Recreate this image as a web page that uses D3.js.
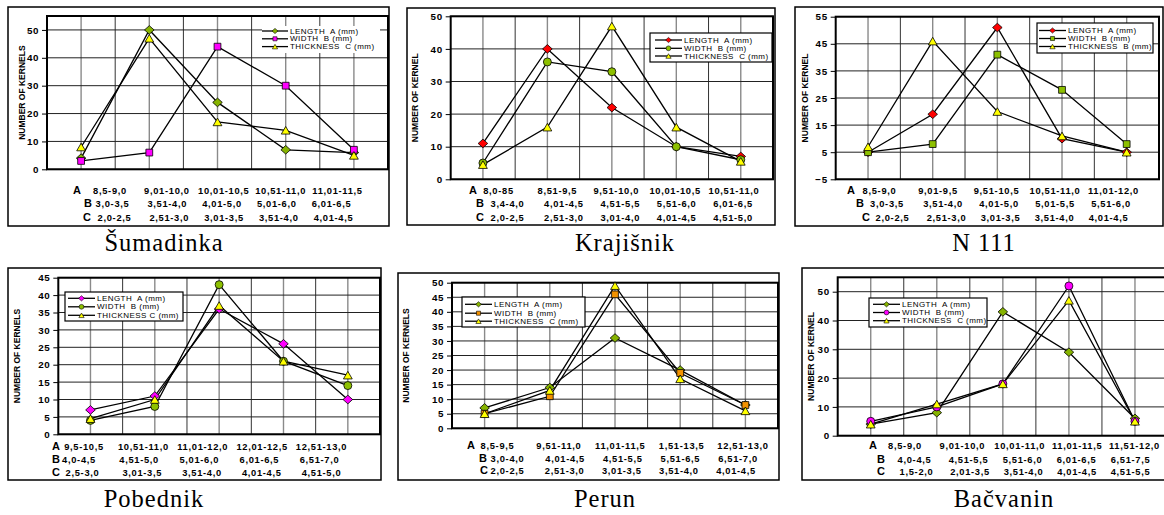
<!DOCTYPE html>
<html><head><meta charset="utf-8">
<script src="https://cdn.jsdelivr.net/npm/d3@7"></script>
<style>
html,body{margin:0;padding:0;background:#fff;}
svg{display:block;}
text{white-space:pre;}
</style></head>
<body>
<svg id="chart" width="1164" height="515"></svg>
<script>
// ---------------- DATA ----------------
const categories = [0, 1, 2, 3, 4];

const sumadinkaLength    = [4, 50, 24, 7, 6];
const sumadinkaWidth     = [3, 6, 44, 30, 7];
const sumadinkaThickness = [8, 47, 17, 14, 5];
const sumadinkaA = ["8,5-9,0", "9,01-10,0", "10,01-10,5", "10,51-11,0", "11,01-11,5"];
const sumadinkaB = ["3,0-3,5", "3,51-4,0", "4,01-5,0", "5,01-6,0", "6,01-6,5"];
const sumadinkaC = ["2,0-2,5", "2,51-3,0", "3,01-3,5", "3,51-4,0", "4,01-4,5"];

const krajisnikLength    = [11, 40, 22, 10, 7];
const krajisnikWidth     = [5, 36, 33, 10, 6];
const krajisnikThickness = [4.5, 16, 47, 16, 5.5];
const krajisnikA = ["8,0-85", "8,51-9,5", "9,51-10,0", "10,01-10,5", "10,51-11,0"];
const krajisnikB = ["3,4-4,0", "4,01-4,5", "4,51-5,5", "5,51-6,0", "6,01-6,5"];
const krajisnikC = ["2,0-2,5", "2,51-3,0", "3,01-4,0", "4,01-4,5", "4,51-5,0"];

const n111Length    = [5, 19, 51, 10, 5];
const n111Width     = [5, 8, 41, 28, 8];
const n111Thickness = [7, 46, 20, 11, 5];
const n111A = ["8,5-9,0", "9,01-9,5", "9,51-10,5", "10,51-11,0", "11,01-12,0"];
const n111B = ["3,0-3,5", "3,51-4,0", "4,01-5,0", "5,01-5,5", "5,51-6,0"];
const n111C = ["2,0-2,5", "2,51-3,0", "3,01-3,5", "3,51-4,0", "4,01-4,5"];

const pobednikLength    = [7, 11, 36, 26, 10];
const pobednikWidth     = [4, 8, 43, 21, 14];
const pobednikThickness = [4.5, 10, 37, 21, 17];
const pobednikA = ["9,5-10,5", "10,51-11,0", "11,01-12,0", "12,01-12,5", "12,51-13,0"];
const pobednikB = ["4,0-4,5", "4,51-5,0", "5,01-6,0", "6,01-6,5", "6,51-7,0"];
const pobednikC = ["2,5-3,0", "3,01-3,5", "3,51-4,0", "4,01-4,5", "4,51-5,0"];

const perunLength    = [7, 14, 31, 20, 8];
const perunWidth     = [5, 11, 46, 19, 8];
const perunThickness = [5, 13, 49, 17, 6];
const perunA = ["8,5-9,5", "9,51-11,0", "11,01-11,5", "1,51-13,5", "12,51-13,0"];
const perunB = ["3,0-4,0", "4,01-4,5", "4,51-5,5", "5,51-6,5", "6,51-7,0"];
const perunC = ["2,0-2,5", "2,51-3,0", "3,01-3,5", "3,51-4,0", "4,01-4,5"];

const bacvaninLength    = [4, 8, 43, 29, 6];
const bacvaninWidth     = [5, 10, 18, 52, 5];
const bacvaninThickness = [4, 11, 18, 47, 5];
const bacvaninA = ["8,5-9,0", "9,01-10,0", "10,01-11,0", "11,01-11,5", "11,51-12,0"];
const bacvaninB = ["4,0-4,5", "4,51-5,5", "5,51-6,0", "6,01-6,5", "6,51-7,5"];
const bacvaninC = ["1,5-2,0", "2,01-3,5", "3,51-4,0", "4,01-4,5", "4,51-5,5"];

const titles = ["Šumadinka", "Krajišnik", "N 111", "Pobednik", "Perun", "Bačvanin"];
const legendStd  = ["LENGTH  A (mm)", "WIDTH  B (mm)", "THICKNESS  C (mm)"];
const legendN111 = ["LENGTH  A (mm)", "WIDTH  B (mm)", "THICKNESS  B (mm)"];
const legendPob  = ["LENGTH  A (mm)", "WIDTH  B (mm)", "THICKNESS C (mm)"];
const yTitles = ["NUMBER OF KERNELS", "NUMBER OF KERNEL", "NUMBER OF KERNEL",
                 "NUMBER OF KERNELS", "NUMBER OF KERNELS", "NUMBER OF KERNEL"];
const yTicks1 = [0, 10, 20, 30, 40, 50];
const yTicks3 = [-5, 5, 15, 25, 35, 45, 55];
const yTicks4 = [0, 5, 10, 15, 20, 25, 30, 35, 40, 45];
const yTicks5 = [0, 5, 10, 15, 20, 25, 30, 35, 40, 45, 50];

// ---------------- STYLE / LAYOUT ----------------
const C = {green:"#86b300", green2:"#8dc000", magenta:"#ff00ff", yellow:"#ffff00",
           red:"#ff0000", orange:"#f39200"};

const panels = [
 {series:[sumadinkaLength, sumadinkaWidth, sumadinkaThickness], rows:[sumadinkaA, sumadinkaB, sumadinkaC],
  shapes:["diamond","square","triangle"], colors:[C.green, C.magenta, C.yellow], legendText:legendStd,
  frame:[8,7,389,226], plot:[47,16,388,169.3], ydom:[0,55], yticks:yTicks1, ytx:22,
  legend:{box:[262,26,380,53], border:false, rowsY:[31,38.8,46.6], lineX:[262,288], textX:290},
  rowsY:[194,207.3,220.6], letterX:[81,92,91], rowRange:[[110,337.5],[112.5,331.5],[114.5,333.5]], title:[164,251]},
 {series:[krajisnikLength, krajisnikWidth, krajisnikThickness], rows:[krajisnikA, krajisnikB, krajisnikC],
  shapes:["diamond","circle","triangle"], colors:[C.red, C.green2, C.yellow], legendText:legendStd,
  frame:[407,8,775,225], plot:[450.7,16.3,773,179.3], ydom:[0,50], yticks:yTicks1, ytx:415,
  legend:{box:[650,33,772,62], border:true, rowsY:[40,48.3,56], lineX:[655,682], textX:684},
  rowsY:[194,207.3,220.6], letterX:[477,484,484], rowRange:[[498.5,734],[507.5,733],[507.5,733]], title:[625,251]},
 {series:[n111Length, n111Width, n111Thickness], rows:[n111A, n111B, n111C],
  shapes:["diamond","square","triangle"], colors:[C.red, C.green2, C.yellow], legendText:legendN111,
  frame:[795,7,1163,226], plot:[835.7,16.7,1159,179.3], ydom:[-5,55], yticks:yTicks3, ytx:805,
  legend:{box:[1037,23,1153,53], border:true, rowsY:[30.5,38.5,46.5], lineX:[1039,1066], textX:1068},
  rowsY:[194,207.3,220.6], letterX:[855,864,870], rowRange:[[879.5,1113.5],[887,1111],[892.5,1108.5]], title:[984,251]},
 {series:[pobednikLength, pobednikWidth, pobednikThickness], rows:[pobednikA, pobednikB, pobednikC],
  shapes:["diamond","circle","triangle"], colors:[C.magenta, C.green2, C.yellow], legendText:legendPob,
  frame:[8,268,381,480], plot:[58.3,277.7,380,434.3], ydom:[0,45], yticks:yTicks4, ytx:17,
  legend:{box:[65,292,183,321], border:true, rowsY:[298.3,306.8,315.3], lineX:[68,95], textX:97},
  rowsY:[450,463.3,476], letterX:[60,60,60], rowRange:[[84,321.5],[79,319.5],[82.5,321.5]], title:[154,507]},
 {series:[perunLength, perunWidth, perunThickness], rows:[perunA, perunB, perunC],
  shapes:["diamond","square","triangle"], colors:[C.green, C.orange, C.yellow], legendText:legendStd,
  frame:[398,273,779,480], plot:[452,282.7,778,428.3], ydom:[0,50], yticks:yTicks5, ytx:406,
  legend:{box:[462,297,585,327], border:true, rowsY:[304.3,313.2,321.2], lineX:[465,492], textX:494},
  rowsY:[449,462.3,474.3], letterX:[475,487,488], rowRange:[[497.5,743],[507.5,738],[507.5,736]], title:[605,507]},
 {series:[bacvaninLength, bacvaninWidth, bacvaninThickness], rows:[bacvaninA, bacvaninB, bacvaninC],
  shapes:["diamond","circle","triangle"], colors:[C.green, C.magenta, C.yellow], legendText:legendStd,
  frame:[802,268,1167,480], plot:[837.7,277.3,1168,435.7], ydom:[0,55], yticks:yTicks1, ytx:811,
  legend:{box:[869,298,987,327], border:true, rowsY:[304.3,312.5,320.7], lineX:[873,900], textX:902},
  rowsY:[449,462.6,475], letterX:[877,885,885], rowRange:[[905,1134.5],[914.5,1130.5],[916.5,1130.5]], title:[1004,507]}
];

const SANS = "'Liberation Sans', Arial, Helvetica, sans-serif";
const SERIF = "'Liberation Serif', 'Times New Roman', serif";

function markerPath(shape, s) {
  if (shape === "diamond") { const w=4.8*s, h=4.3*s; return `M0,${-h}L${w},0L0,${h}L${-w},0Z`; }
  if (shape === "square")  { const a=3.4*s; return `M${-a},${-a}H${a}V${a}H${-a}Z`; }
  if (shape === "triangle"){ const w=4.4*s, h=3.8*s; return `M0,${-h}L${w},${h}L${-w},${h}Z`; }
  const r=4*s; return `M${r},0A${r},${r} 0 1,1 ${-r},0A${r},${r} 0 1,1 ${r},0Z`;
}

const svg = d3.select("#chart");

panels.forEach((p, pi) => {
  const g = svg.append("g");
  const [fx0, fy0, fx1, fy1] = p.frame;
  g.append("rect").attr("x", fx0).attr("y", fy0).attr("width", fx1 - fx0).attr("height", fy1 - fy0)
    .attr("fill", "#fff").attr("stroke", "#000").attr("stroke-width", 1.5);

  const [px0, py0, px1, py1] = p.plot;
  const x = d3.scalePoint().domain(categories).range([px0, px1]).padding(0.5);
  const y = d3.scaleLinear().domain(p.ydom).range([py1, py0]);
  const step = x.step();

  categories.forEach(c => {
    g.append("line").attr("x1", x(c)).attr("x2", x(c)).attr("y1", py0).attr("y2", py1)
      .attr("stroke", "#8a8a8a").attr("stroke-width", 1.4);
    if (c > 0) g.append("line").attr("x1", x(c) - step / 2).attr("x2", x(c) - step / 2)
      .attr("y1", py0).attr("y2", py1).attr("stroke", "#333").attr("stroke-width", 1);
  });
  p.yticks.forEach(t => {
    g.append("line").attr("x1", px0).attr("x2", px1).attr("y1", y(t)).attr("y2", y(t))
      .attr("stroke", "#222").attr("stroke-width", 1);
  });

  const ax = g.append("g").attr("transform", `translate(${px0},0)`)
    .call(d3.axisLeft(y).tickValues(p.yticks).tickSize(5).tickPadding(3).tickFormat(d3.format("d")));
  ax.select(".domain").remove();
  ax.selectAll(".tick line").attr("stroke", "#000").attr("stroke-width", 1);
  ax.selectAll(".tick text").attr("font-family", SANS).attr("font-weight", "bold")
    .attr("font-size", 9.8).attr("letter-spacing", 0.6).attr("fill", "#000");

  g.append("rect").attr("x", px0).attr("y", py0).attr("width", px1 - px0).attr("height", py1 - py0)
    .attr("fill", "none").attr("stroke", "#000").attr("stroke-width", 2);

  g.append("text").attr("transform", `translate(${p.ytx},${(py0 + py1) / 2}) rotate(-90)`)
    .attr("text-anchor", "middle").attr("dominant-baseline", "central")
    .attr("font-family", SANS).attr("font-weight", "bold").attr("font-size", 8.5)
    .attr("fill", "#000").text(yTitles[pi]);

  const line = d3.line().x((d, i) => x(categories[i])).y(d => y(d));
  p.series.forEach(s => {
    g.append("path").attr("d", line(s)).attr("fill", "none").attr("stroke", "#000").attr("stroke-width", 1.3);
  });
  p.series.forEach((s, si) => {
    g.selectAll(null).data(s).enter().append("path")
      .attr("transform", (d, i) => `translate(${x(categories[i])},${y(d)})`)
      .attr("d", markerPath(p.shapes[si], 1))
      .attr("fill", p.colors[si]).attr("stroke", "#000").attr("stroke-width", 0.8);
  });

  const L = p.legend;
  g.append("rect").attr("x", L.box[0]).attr("y", L.box[1]).attr("width", L.box[2] - L.box[0])
    .attr("height", L.box[3] - L.box[1]).attr("fill", "#fff")
    .attr("stroke", L.border ? "#000" : "none").attr("stroke-width", 1.2);
  p.legendText.forEach((t, i) => {
    const ly = L.rowsY[i];
    g.append("line").attr("x1", L.lineX[0]).attr("x2", L.lineX[1]).attr("y1", ly).attr("y2", ly)
      .attr("stroke", "#000").attr("stroke-width", 1.3);
    g.append("path").attr("transform", `translate(${(L.lineX[0] + L.lineX[1]) / 2},${ly})`)
      .attr("d", markerPath(p.shapes[i], 0.6)).attr("fill", p.colors[i]).attr("stroke", "#000").attr("stroke-width", 0.6);
    g.append("text").attr("x", L.textX).attr("y", ly).attr("dominant-baseline", "central")
      .attr("font-family", SANS).attr("font-size", 8).attr("letter-spacing", 0.45).attr("fill", "#000").text(t);
  });

  ["A", "B", "C"].forEach((letter, ri) => {
    const ry = p.rowsY[ri];
    g.append("text").attr("x", p.letterX[ri]).attr("y", ry).attr("text-anchor", "end")
      .attr("font-family", SANS).attr("font-weight", "bold").attr("font-size", 11).attr("fill", "#000").text(letter);
    const lx = d3.scalePoint().domain(categories).range(p.rowRange[ri]);
    g.selectAll(null).data(p.rows[ri]).enter().append("text")
      .attr("x", (d, i) => lx(categories[i])).attr("y", ry).attr("text-anchor", "middle")
      .attr("font-family", SANS).attr("font-weight", "bold").attr("font-size", 9.3)
      .attr("letter-spacing", 0.7).attr("fill", "#000").text(d => d);
  });

  g.append("text").attr("x", p.title[0]).attr("y", p.title[1]).attr("text-anchor", "middle")
    .attr("font-family", SERIF).attr("font-size", 24.5).attr("letter-spacing", 1)
    .attr("fill", "#000").text(titles[pi]);
});
</script>
</body></html>
